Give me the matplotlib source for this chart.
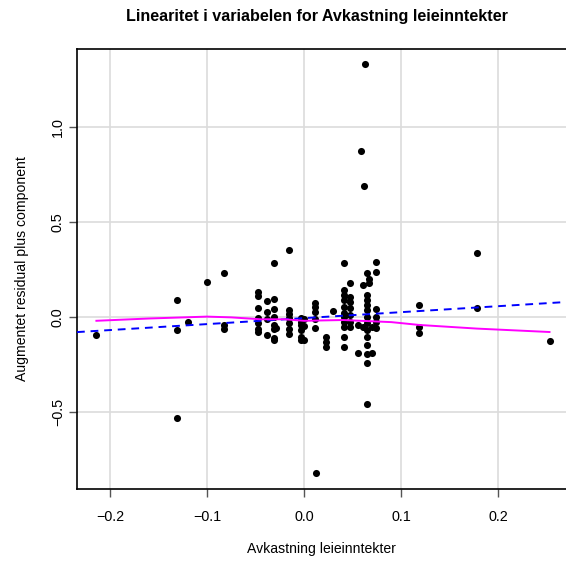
import numpy as np
import matplotlib
matplotlib.use("Agg")
import matplotlib.pyplot as plt

plt.rcParams["font.family"] = ["Liberation Sans", "DejaVu Sans"]

# (x, partial residual) pairs, grouped by x column
x_vals = (
    [-0.214, -0.131, -0.131, -0.131, -0.120, -0.1005, -0.082, -0.082, -0.082]
    + [-0.047] * 7 + [-0.0385] * 4 + [-0.031] * 8 + [-0.0286]
    + [-0.016] * 7 + [-0.003] * 6 + [-0.0005] * 3 + [0.011] * 5 + [0.012]
    + [0.023] * 3 + [0.030] + [0.0416] * 11 + [0.047] * 7 + [0.056] * 2
    + [0.0608] * 2 + [0.0653] * 13 + [0.0673] * 2 + [0.070] * 2 + [0.0742] * 6
    + [0.063, 0.059, 0.062]
    + [0.119] * 3 + [0.178] * 2 + [0.253]
)
y_vals = (
    [-0.095, 0.09, -0.07, -0.53, -0.025, 0.185, 0.23, -0.04, -0.065]
    + [0.133, 0.112, 0.046, -0.007, -0.033, -0.063, -0.079]
    + [0.086, 0.028, -0.012, -0.095]
    + [0.284, 0.095, 0.042, 0.002, -0.042, -0.063, -0.111, -0.121]
    + [-0.058]
    + [0.353, 0.037, 0.016, -0.005, -0.032, -0.063, -0.089]
    + [-0.005, -0.025, -0.042, -0.068, -0.104, -0.121]
    + [-0.011, -0.047, -0.121]
    + [0.075, 0.054, 0.028, -0.011, -0.058]
    + [-0.821]
    + [-0.104, -0.13, -0.156]
    + [0.033]
    + [0.286, 0.142, 0.116, 0.089, 0.054, 0.023, -0.002, -0.025, -0.051, -0.104, -0.156]
    + [0.181, 0.107, 0.081, 0.046, 0.011, -0.025, -0.051]
    + [-0.042, -0.188]
    + [0.168, -0.051]
    + [0.23, 0.116, 0.089, 0.063, 0.037, 0.002, -0.033, -0.068, -0.104, -0.147,
       -0.195, -0.244, -0.458]
    + [0.2, 0.179]
    + [-0.051, -0.191]
    + [0.291, 0.238, 0.042, 0.002, -0.025, -0.059]
    + [1.33, 0.875, 0.69]
    + [0.065, -0.051, -0.086]
    + [0.337, 0.047]
    + [-0.126]
)

# linear component fit (blue dashed)
fit_slope = 0.314
fit_intercept = -0.006

# smoother (magenta)
smooth_x = [-0.214, -0.16, -0.1, -0.075, -0.045, -0.02, 0.0, 0.04, 0.09, 0.119, 0.178, 0.253]
smooth_y = [-0.02, -0.008, 0.002, -0.002, -0.012, -0.012, -0.02, -0.016, -0.027, -0.042, -0.061, -0.079]

x_ticks = [-0.2, -0.1, 0.0, 0.1, 0.2]
y_ticks = [-0.5, 0.0, 0.5, 1.0]

fig = plt.figure(figsize=(5.66, 5.62), dpi=100)
ax = fig.add_axes([77 / 566, 1 - 489 / 562, 1 - 77 / 566, (489 - 49) / 562])

ax.set_xlim(-0.234, 0.27)
ax.set_ylim(-0.905, 1.41)

ax.set_xticks(x_ticks)
ax.set_yticks(y_ticks)
ax.grid(True, color="#dcdcdc", linewidth=1.2)
ax.set_axisbelow(True)

ax.scatter(x_vals, y_vals, s=26, color="black", zorder=3, linewidths=0)

lx = np.array(ax.get_xlim())
ax.plot(lx, fit_intercept + fit_slope * lx, color="blue", linestyle=(0, (4, 3)),
        linewidth=1.4, zorder=4)
ax.plot(smooth_x, smooth_y, color="magenta", linewidth=1.4, zorder=4)

ax.spines["right"].set_visible(False)
for s in ["left", "bottom", "top"]:
    ax.spines[s].set_linewidth(1.2)
ax.tick_params(axis="both", direction="out", length=5.8, width=1, color="#555555",
               labelsize=10.4)
ax.tick_params(axis="x", pad=9)
ax.tick_params(axis="y", pad=3)
for lab in ax.get_yticklabels():
    lab.set_rotation(90)
    lab.set_va("center")

ax.set_xticklabels(["\u22120.2", "\u22120.1", "0.0", "0.1", "0.2"])
ax.set_yticklabels(["\u22120.5", "0.0", "0.5", "1.0"])

ax.set_xlabel("Avkastning leieinntekter", fontsize=10.1, labelpad=13)
ax.set_ylabel("Augmentet residual plus component", fontsize=10.1, labelpad=16)
fig.text(317 / 566, 1 - 16 / 562, "Linearitet i variabelen for Avkastning leieinntekter",
         ha="center", va="center", fontsize=11.6, fontweight="bold")

fig.savefig("out.png", dpi=100)
